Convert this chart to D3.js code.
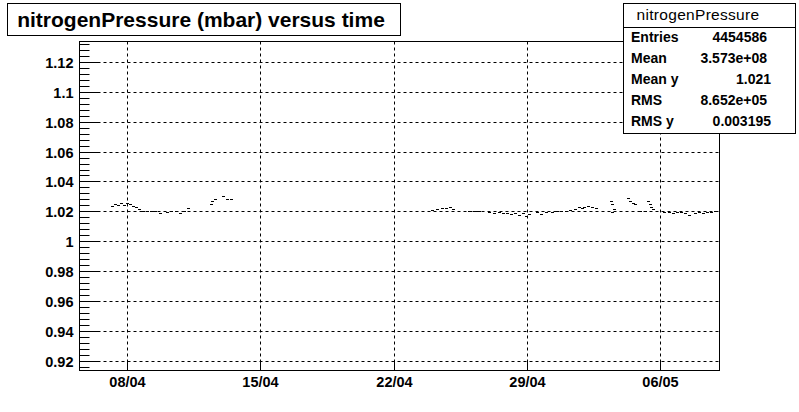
<!DOCTYPE html>
<html><head><meta charset="utf-8">
<script src="https://cdn.jsdelivr.net/npm/d3@7"></script>
<style>body{margin:0;background:#fff}svg{display:block}text{font-family:"Liberation Sans",Arial,sans-serif}</style>
</head><body><svg id="c" width="799" height="412"></svg>
<script>
// Data: day offsets from 08/04/2006 00:00 (UTC) and nitrogen pressure (mbar)
const pointDays = [-0.77,-0.61,-0.46,-0.30,-0.14,0.02,0.17,0.33,0.49,0.65,0.86,1.07,1.28,1.49,1.75,2.12,2.33,2.59,2.80,3.01,3.22,4.43,4.48,4.64,5.06,5.27,5.48,
 16.03,16.30,16.55,16.76,16.97,17.13,17.97,18.23,18.50,19.02,19.28,19.54,19.76,19.97,20.18,20.39,20.60,20.81,20.96,21.12,21.54,21.75,22.01,22.33,22.59,22.80,23.06,23.27,23.53,23.74,23.89,
 24.00,24.21,24.42,24.63,25.42,25.48,25.48,25.58,26.32,26.42,26.58,26.69,26.95,27.21,27.37,27.47,27.53,27.63,28.20,28.47,28.68,28.89,29.10,29.31,29.52,29.84,30.05,30.26,30.47,30.68,30.89];
const pointValues = [1.0234,1.0248,1.0241,1.0254,1.0241,1.0254,1.0248,1.0234,1.0227,1.0214,1.0201,1.0201,1.0201,1.0201,1.0187,1.0197,1.0201,1.0201,1.0191,1.0201,1.0224,1.0248,1.0268,1.0281,1.0304,1.0284,1.0281,
 1.0207,1.0214,1.0224,1.0221,1.0231,1.0214,1.0201,1.0201,1.0201,1.0194,1.0191,1.0194,1.0187,1.0191,1.0181,1.0187,1.0174,1.0187,1.0167,1.0181,1.0194,1.0184,1.0194,1.0197,1.0201,1.0201,1.0204,1.0207,1.0214,1.0227,1.0221,
 1.0227,1.0234,1.0227,1.0221,1.0268,1.0248,1.0194,1.0214,1.0288,1.0268,1.0254,1.0248,1.0201,1.0201,1.0268,1.0248,1.0227,1.0214,1.0194,1.0197,1.0187,1.0194,1.0197,1.0187,1.0174,1.0187,1.0194,1.0187,1.0194,1.0197,1.0201];
const yTickValues = [0.92,0.94,0.96,0.98,1.00,1.02,1.04,1.06,1.08,1.10,1.12];
const xTickDays = [0,7,14,21,28];
const yDomain = [0.9136,1.1336];
const xDomainDays = [-2.488,31.113];
const titleText = "nitrogenPressure (mbar) versus time";
const statsName = "nitrogenPressure";
const statsLabels = ["Entries","Mean","Mean y","RMS","RMS y"];
const statsValues = ["4454586","3.573e+08","1.021","8.652e+05","0.003195"];

const DAY = 86400000, base = Date.UTC(2006,3,8);
const toDate = d => new Date(base + d*DAY);
const svg = d3.select("#c");
const L=79.5, R=719.5, T=41.5, B=370.5;
const x = d3.scaleUtc().domain(xDomainDays.map(toDate)).range([L,R]);
const y = d3.scaleLinear().domain(yDomain).range([B,T]);

// grid
const g = svg.append("g").attr("stroke","#000").attr("stroke-width",1).attr("stroke-dasharray","3,3");
g.selectAll(".gx").data(xTickDays).join("line")
  .attr("x1",d=>Math.round(x(toDate(d)))+0.5).attr("x2",d=>Math.round(x(toDate(d)))+0.5).attr("y1",T).attr("y2",B);
g.selectAll(".gy").data(yTickValues).join("line")
  .attr("y1",d=>Math.round(y(d))+0.5).attr("y2",d=>Math.round(y(d))+0.5).attr("x1",L).attr("x2",R);

// data points
svg.append("g").selectAll("rect").data(pointDays.map((d,i)=>[d,pointValues[i]])).join("rect")
  .attr("x",d=>Math.round(x(toDate(d[0])))-1).attr("y",d=>Math.round(y(d[1])))
  .attr("width",3).attr("height",1).attr("fill","#000");

// frame
svg.append("rect").attr("x",L).attr("y",T).attr("width",R-L).attr("height",B-T)
  .attr("fill","none").attr("stroke","#000");

// y axis
const yAxis = d3.axisRight(y).tickValues(yTickValues).tickSize(19).tickFormat(d3.format("~g")).tickPadding(0);
const ya = svg.append("g").attr("transform",`translate(${L},0)`).call(yAxis);
ya.select(".domain").remove();
ya.selectAll("text").attr("text-anchor","end").attr("x",-6).attr("dy","0.36em").attr("font-weight","bold").attr("font-size",14.5).attr("fill","#000");
ya.selectAll(".tick").attr("transform",d=>`translate(0,${Math.round(y(d))+0.5})`);
const minor = d3.range(0,56).map(i=>+(0.916+i*0.004).toFixed(3)).filter(v=>v<yDomain[1] && v>yDomain[0] && !yTickValues.some(t=>Math.abs(t-v)<1e-6));
svg.append("g").selectAll("line").data(minor).join("line")
  .attr("x1",L).attr("x2",L+10).attr("y1",d=>Math.round(y(d))+0.5).attr("y2",d=>Math.round(y(d))+0.5).attr("stroke","#000");

// x axis
const xAxis = d3.axisTop(x).tickValues(xTickDays.map(toDate)).tickSize(9).tickFormat(d3.utcFormat("%d/%m"));
const xa = svg.append("g").attr("transform",`translate(0,${B})`).call(xAxis);
xa.select(".domain").remove();
xa.selectAll(".tick").attr("transform",d=>`translate(${Math.round(x(d))+0.5},0)`);
xa.selectAll("text").attr("y",16).attr("dy",0).attr("font-weight","bold").attr("font-size",14.5).attr("fill","#000");

// title box
svg.append("rect").attr("x",7.5).attr("y",3.5).attr("width",393).attr("height",32).attr("fill","#fff").attr("stroke","#000");
svg.append("text").attr("x",201).attr("y",27).attr("text-anchor","middle").attr("font-weight","bold").attr("font-size",21).text(titleText);

// stats box
const sb = svg.append("g");
sb.append("rect").attr("x",623.5).attr("y",3.5).attr("width",172).attr("height",130).attr("fill","#fff").attr("stroke","#000");
sb.append("line").attr("x1",623.5).attr("x2",795.5).attr("y1",27.5).attr("y2",27.5).attr("stroke","#000");
sb.append("text").attr("x",698).attr("y",20).attr("text-anchor","middle").attr("font-size",15.5).attr("letter-spacing",0.3).text(statsName);
const rowY = d3.scalePoint().domain(statsLabels).range([42,126]);
sb.selectAll(".lab").data(statsLabels).join("text").attr("x",631).attr("y",d=>rowY(d))
  .attr("font-weight","bold").attr("font-size",14).text(d=>d);
sb.selectAll(".val").data(statsValues).join("text").attr("x",(d,i)=>/e/.test(d)||i===0?767:771).attr("y",(d,i)=>rowY(statsLabels[i]))
  .attr("text-anchor","end").attr("font-weight","bold").attr("font-size",14).text(d=>d);
</script></body></html>
